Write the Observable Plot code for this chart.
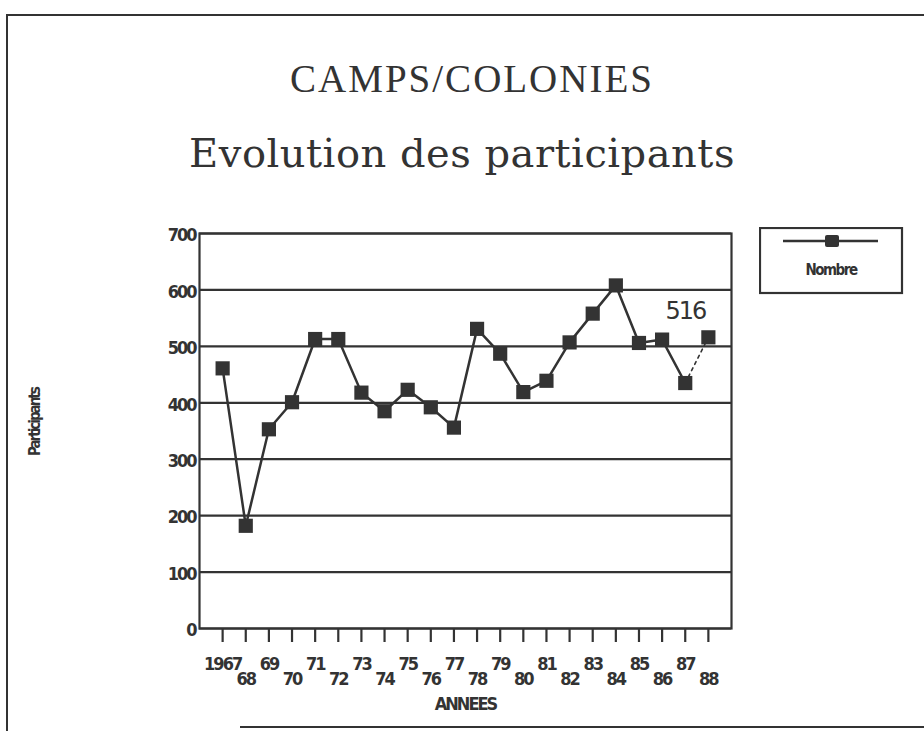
<!DOCTYPE html>
<html>
<head>
<meta charset="utf-8">
<script src="https://cdn.jsdelivr.net/npm/d3@7"></script>
<script src="https://cdn.jsdelivr.net/npm/@observablehq/plot@0.6"></script>
<style>
  html, body { margin: 0; padding: 0; background: #fff; }
  #wrap { position: relative; width: 924px; height: 731px; overflow: hidden; background: #fff; }
  #wrap > svg.chart { position: absolute; left: 0; top: 0; }
  .t1 { position: absolute; left: 10px; width: 924px; text-align: center; top: 59px; font-family: "Liberation Serif", serif; font-size: 39px; letter-spacing: 2px; color: #333; line-height: 1; }
  .t2 { position: absolute; left: 0; width: 924px; text-align: center; top: 133px; font-family: "DejaVu Serif", serif; font-size: 40px; letter-spacing: 0.5px; color: #333; line-height: 1; }
  .bt { position: absolute; left: 6px; top: 14px; width: 930px; border-top: 2px solid #333; }
  .bl { position: absolute; left: 6px; top: 14px; height: 720px; border-left: 2px solid #333; }
  .bb { position: absolute; left: 240px; top: 726px; width: 700px; border-top: 2px solid #333; }
  #wrap > svg#legend { position: absolute; left: 759px; top: 227px; }
</style>
</head>
<body>
<div id="wrap">
  <div class="bt"></div><div class="bl"></div><div class="bb"></div>
  <div class="t1">CAMPS/COLONIES</div>
  <div class="t2">Evolution des participants</div>
</div>
<script>
const years = [1967,1968,1969,1970,1971,1972,1973,1974,1975,1976,1977,1978,1979,1980,1981,1982,1983,1984,1985,1986,1987,1988];
const participants = [461,182,353,401,513,513,418,385,423,392,356,531,487,419,439,507,558,608,506,512,435,516];
const yTicks = [0,100,200,300,400,500,600,700];
const seriesName = "Nombre";
const annotatedYear = 1988;

const data = years.map((y, i) => ({year: y, value: participants[i]}));
const solid = data.filter(d => d.year <= 1987);
const dashed = data.filter(d => d.year >= 1987);
const oddYears = years.filter(y => y % 2 === 1);
const evenYears = years.filter(y => y % 2 === 0);
const fmt = d => d === 1967 ? "1967" : String(d).slice(2);
const ink = "#333";
const sansFamily = "'DejaVu Sans Condensed', 'DejaVu Sans', sans-serif";
const axisFont = {fontFamily: sansFamily, fontWeight: "bold", fontSize: 18};

const chart = Plot.plot({
  width: 924,
  height: 731,
  marginLeft: 199,
  marginRight: 193,
  marginTop: 233,
  marginBottom: 103,
  className: "chart",
  style: {background: "transparent", color: ink, fontFamily: sansFamily, fontWeight: "bold", letterSpacing: "-2px"},
  x: {domain: [1966, 1989]},
  y: {domain: [0, 700]},
  marks: [
    Plot.ruleY(yTicks, {stroke: ink, strokeWidth: 2.2}),
    Plot.frame({stroke: ink, strokeWidth: 2.2}),
    Plot.axisY({ticks: yTicks, tickSize: 0, tickPadding: 4, dy: 2, label: null, ...axisFont}),
    Plot.axisX({ticks: oddYears, tickSize: 14, tickPadding: 15, tickFormat: fmt, label: null, strokeWidth: 2.2, ...axisFont}),
    Plot.axisX({ticks: evenYears, tickSize: 14, tickPadding: 30, tickFormat: fmt, label: null, strokeWidth: 2.2, ...axisFont}),
    Plot.line(solid, {x: "year", y: "value", stroke: ink, strokeWidth: 2.5}),
    Plot.line(dashed, {x: "year", y: "value", stroke: ink, strokeWidth: 1.6, strokeDasharray: "3,4"}),
    Plot.dot(data, {x: "year", y: "value", symbol: "square", r: 8, fill: ink, stroke: "none"}),
    Plot.text(data.filter(d => d.year === annotatedYear), {x: "year", y: "value", text: d => String(d.value), dy: -26, dx: -23, fontFamily: "'DejaVu Sans', sans-serif", fontSize: 24, fontWeight: "normal", fill: ink}),
    Plot.text(["Participants"], {frameAnchor: "left", dx: -164, dy: 25, rotate: -90, text: d => d, fontFamily: sansFamily, fontWeight: "bold", fontSize: 15, fill: ink}),
    Plot.text(["ANNEES"], {frameAnchor: "bottom", dx: 0, dy: 81, text: d => d, fontFamily: sansFamily, fontWeight: "bold", fontSize: 18, fill: ink})
  ]
});
document.getElementById("wrap").appendChild(chart);

// legend box (static key for the single series)
const legend = d3.create("svg").attr("id", "legend").attr("width", 146).attr("height", 70);
legend.append("rect").attr("x", 1).attr("y", 1).attr("width", 142).attr("height", 65)
  .attr("fill", "white").attr("stroke", ink).attr("stroke-width", 2.2);
legend.append("line").attr("x1", 24).attr("x2", 119).attr("y1", 14).attr("y2", 14)
  .attr("stroke", ink).attr("stroke-width", 2.5);
legend.append("rect").attr("x", 66).attr("y", 8).attr("width", 14).attr("height", 12).attr("rx", 2).attr("fill", ink);
legend.append("text").attr("x", 72).attr("y", 48).attr("text-anchor", "middle")
  .attr("font-family", sansFamily).attr("font-weight", "bold").attr("font-size", 15)
  .attr("letter-spacing", "-1.5px").attr("fill", ink).text(seriesName);
document.getElementById("wrap").appendChild(legend.node());
</script>
</body>
</html>
